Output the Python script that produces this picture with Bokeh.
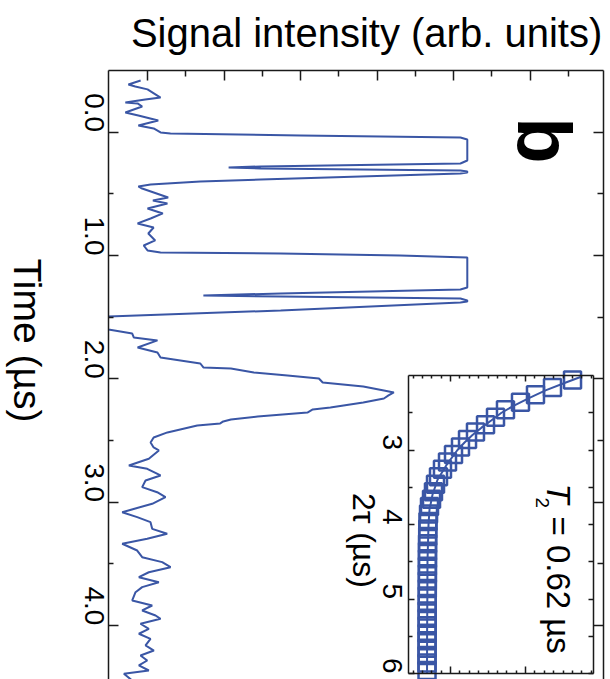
import math
from bokeh.plotting import figure
from bokeh.models import Range1d, LinearAxis, FixedTicker, PrintfTickFormatter, Label, CustomJSTickFormatter
from bokeh.embed import file_html
from bokeh.resources import INLINE

# ---------------- data ----------------
time_us = [-0.419, -0.387, -0.371, -0.347, -0.281, -0.265, -0.241, -0.233, -0.208, -0.160,
           -0.135, -0.095, -0.054, -0.030, 0.002, 0.011, 0.027, 0.043, 0.059, 0.148,
           0.230, 0.254, 0.278, 0.286, 0.294, 0.310, 0.318, 0.327, 0.335, 0.384,
           0.400, 0.424, 0.440, 0.457, 0.530, 0.554, 0.578, 0.619, 0.659, 0.700,
           0.740, 0.773, 0.822, 0.878, 0.919, 0.959, 0.976, 0.984, 1.000, 1.016,
           1.122, 1.260, 1.276, 1.308, 1.325, 1.333, 1.349, 1.365, 1.373, 1.381,
           1.446, 1.495, 1.527, 1.560, 1.600, 1.633, 1.665, 1.689, 1.746, 1.787,
           1.827, 1.876, 1.908, 1.916, 1.949, 1.973, 1.998, 2.030, 2.063, 2.095,
           2.111, 2.135, 2.160, 2.192, 2.233, 2.249, 2.274, 2.306, 2.330, 2.346,
           2.362, 2.379, 2.435, 2.476, 2.517, 2.557,
           2.581, 2.649, 2.703, 2.730, 2.784, 2.825, 2.879, 2.920, 2.960, 3.014,
           3.082, 3.122, 3.163, 3.217, 3.257, 3.298, 3.338, 3.393, 3.447, 3.487,
           3.528, 3.569, 3.609, 3.650, 3.690, 3.731, 3.798, 3.839, 3.879, 3.920,
           3.947, 3.987, 4.028, 4.068, 4.109, 4.163, 4.204, 4.244, 4.285, 4.325,
           4.366, 4.393, 4.447]
signal = [-0.09, -0.25, -0.16, 0.00, 0.17, -0.03, -0.29, -0.13, -0.07, -0.29,
          -0.12, 0.14, -0.12, 0.08, 0.17, 0.30, 2.00, 4.09, 4.18, 4.18,
          4.18, 4.09, 1.48, 1.06, 1.48, 4.09, 4.18, 4.18, 4.09, 1.48,
          0.69, 0.04, -0.12, -0.07, 0.27, 0.07, 0.26, 0.00, 0.20, 0.04,
          -0.13, 0.08, 0.01, 0.10, -0.05, 0.00, 0.17, 1.74, 3.30, 4.18,
          4.18, 4.18, 4.09, 1.74, 0.73, 1.74, 4.09, 4.18, 4.18, 4.09,
          1.74, -0.51, -0.80, -0.80, -0.51, -0.20, -0.18, 0.13, -0.13, 0.13,
          0.17, 0.69, 0.73, 1.09, 1.39, 1.83, 2.24, 2.29, 2.82, 3.09,
          3.22, 3.15, 3.09, 2.82, 2.39, 2.16, 2.09, 1.44, 1.09, 0.99,
          0.95, 0.65, 0.26, 0.08, 0.04, 0.08,
          0.148, 0.017, -0.244, -0.004, 0.170, -0.026, -0.070, 0.126, 0.235, 0.061,
          -0.331, -0.135, 0.039, 0.061, 0.257, -0.004, -0.331, -0.135, -0.070, 0.192,
          0.301, 0.017, -0.113, 0.148, -0.070, -0.157, -0.200, 0.061, -0.070, 0.105,
          0.170, -0.092, 0.017, -0.113, 0.039, -0.026, 0.083, -0.092, -0.004, -0.113,
          0.017, -0.309, -0.20]

tau2_us = [2.06, 2.16, 2.26, 2.36, 2.46, 2.56, 2.66, 2.76, 2.86, 2.96,
           3.06, 3.16, 3.26, 3.36, 3.46, 3.56, 3.66, 3.76, 3.86, 3.96,
           4.06, 4.16, 4.26, 4.36, 4.46, 4.56, 4.66, 4.76, 4.86, 4.96,
           5.06, 5.16, 5.26, 5.36, 5.46, 5.56, 5.66, 5.76, 5.86, 5.96]
echo = [2.627, 2.360, 2.133, 1.933, 1.733, 1.600, 1.467, 1.333, 1.227, 1.133,
        1.040, 0.960, 0.893, 0.840, 0.800, 0.773, 0.747, 0.720, 0.707, 0.700,
        0.697, 0.696, 0.694, 0.693, 0.693, 0.692, 0.692, 0.691, 0.691, 0.690,
        0.690, 0.689, 0.689, 0.689, 0.688, 0.688, 0.688, 0.687, 0.687, 0.687]
fit_tau2 = [2.02, 2.1, 2.2, 2.3, 2.4, 2.5, 2.6, 2.7, 2.8, 2.9,
            3.0, 3.2, 3.4, 3.6, 3.8, 4.0, 4.5, 5.0, 5.5, 6.0]
fit_echo = [2.733, 2.520, 2.267, 2.053, 1.853, 1.680, 1.547, 1.413, 1.293, 1.187,
            1.093, 0.947, 0.827, 0.760, 0.720, 0.707, 0.693, 0.691, 0.688, 0.687]

time_ticks = [0, 1, 2, 3, 4]
time_minor = [0.5, 1.5, 2.5, 3.5]
sig_ticks = [0, 1, 2, 3, 4, 5]
sig_minor = [0.5, 1.5, 2.5, 3.5, 4.5, 5.5]
inset_y_ticks = [3, 4, 5, 6]
inset_y_minor = [2.5, 3.5, 4.5, 5.5]
inset_x_ticks = [1, 2]
inset_x_minor = [0.5, 0.625, 0.75, 0.875, 1.125, 1.25, 1.375, 1.5, 1.625, 1.75, 1.875,
                 2.125, 2.25, 2.375, 2.5, 2.625, 2.75, 2.875]

# extents of the main panel and of the inset (data units)
main_x_span = [-0.51, 5.96]
main_y_span = [-0.5, 4.439]
inset_x_span = [0.44, 2.907]
inset_y_span = [2.0, 6.0]

# ---------------- styling ----------------
BLUE = "#3a56a5"
FONT = "Liberation Sans"
AX = "#1a1a1a"
ROT = -math.pi / 2
blank = CustomJSTickFormatter(code="return ''")

p = figure(width=610, height=679, output_backend="svg", toolbar_location=None,
           x_range=Range1d(-1.922, 6.052), y_range=Range1d(4.439, -1.068),
           x_axis_location=None, y_axis_location=None,
           min_border_left=0, min_border_right=0, min_border_top=0, min_border_bottom=0)
p.outline_line_color = None
p.xgrid.grid_line_color = None
p.ygrid.grid_line_color = None
p.background_fill_color = "white"
p.border_fill_color = "white"

p.extra_x_ranges = {"ix": Range1d(-5.0, 3.1333)}
p.extra_y_ranges = {"iy": Range1d(6.0805, -3.0336)}


def style(ax, maj_in, min_in, lw=1.5):
    ax.axis_line_color = AX
    ax.axis_line_width = lw
    ax.major_tick_line_color = AX
    ax.major_tick_line_width = lw
    ax.minor_tick_line_color = AX
    ax.minor_tick_line_width = lw
    ax.major_tick_in = maj_in
    ax.major_tick_out = 0
    ax.minor_tick_in = min_in
    ax.minor_tick_out = 0
    ax.major_label_text_font = FONT
    ax.major_label_text_color = "black"


# main trace
p.line(signal, time_us, line_color=BLUE, line_width=2)
# white mask: the trace is clipped at the left edge of the main panel
p.quad(left=[p.x_range.start], right=[main_x_span[0]], top=[p.y_range.end], bottom=[p.y_range.start],
       fill_color="white", line_color=None)

# main axes (drawn at the edges of the main panel)
left = LinearAxis(ticker=FixedTicker(ticks=time_ticks, minor_ticks=time_minor),
                  formatter=PrintfTickFormatter(format="%.1f"), fixed_location=main_x_span[0],
                  bounds=(main_y_span[0], main_y_span[1]),
                  major_label_orientation=ROT, major_label_standoff=14)
style(left, 10, 5)
left.major_label_text_font_size = "28px"
p.add_layout(left, "left")

top = LinearAxis(ticker=FixedTicker(ticks=sig_ticks, minor_ticks=sig_minor),
                 formatter=blank, major_label_standoff=0, fixed_location=main_y_span[0],
                 bounds=(main_x_span[0], main_x_span[1]))
style(top, 10, 6)
p.add_layout(top, "above")

right = LinearAxis(ticker=FixedTicker(ticks=time_ticks, minor_ticks=time_minor),
                   formatter=blank, major_label_standoff=0, fixed_location=main_x_span[1],
                   bounds=(main_y_span[0], main_y_span[1]))
style(right, 10, 6)
p.add_layout(right, "right")

# inset background
p.quad(left=[inset_x_span[0]], right=[inset_x_span[1]], bottom=[inset_y_span[1]], top=[inset_y_span[0]],
       x_range_name="ix", y_range_name="iy", fill_color="white", line_color=None)

# inset data
p.line(fit_echo, fit_tau2, x_range_name="ix", y_range_name="iy", line_color=BLUE, line_width=2)
p.scatter(echo, tau2_us, x_range_name="ix", y_range_name="iy", marker="square", size=17,
          fill_color=None, line_color=BLUE, line_width=2.5)

# inset axes
i_left = LinearAxis(x_range_name="ix", y_range_name="iy", fixed_location=inset_x_span[0],
                    bounds=(inset_y_span[0], inset_y_span[1]),
                    ticker=FixedTicker(ticks=inset_y_ticks, minor_ticks=inset_y_minor),
                    major_label_orientation=ROT, major_label_standoff=16)
style(i_left, 6, 4)
i_left.major_label_text_font_size = "28px"
p.add_layout(i_left, "left")

i_right = LinearAxis(x_range_name="ix", y_range_name="iy", fixed_location=inset_x_span[1],
                     bounds=(inset_y_span[0], inset_y_span[1]),
                     ticker=FixedTicker(ticks=inset_y_ticks, minor_ticks=inset_y_minor),
                     formatter=blank, major_label_standoff=0)
style(i_right, 5, 5)
p.add_layout(i_right, "right")

i_top = LinearAxis(x_range_name="ix", y_range_name="iy", fixed_location=inset_y_span[0],
                   bounds=(inset_x_span[0], inset_x_span[1]),
                   ticker=FixedTicker(ticks=inset_x_ticks, minor_ticks=inset_x_minor),
                   formatter=blank, major_label_standoff=0)
style(i_top, 6, 3)
p.add_layout(i_top, "above")

i_bot = LinearAxis(x_range_name="ix", y_range_name="iy", fixed_location=inset_y_span[1],
                   bounds=(inset_x_span[0], inset_x_span[1]),
                   ticker=FixedTicker(ticks=inset_x_ticks, minor_ticks=inset_x_minor),
                   formatter=blank, major_label_standoff=0)
style(i_bot, 7, 3)
p.add_layout(i_bot, "below")


# texts
def lab(x, y, text, size, angle=ROT, align="center", baseline="middle", style_="normal"):
    p.add_layout(Label(x=x, y=y, text=text, angle=angle, text_align=align, text_baseline=baseline,
                       text_font=FONT, text_font_size=size, text_font_style=style_, text_color="black"))


lab(2.863, -0.808, "Signal intensity (arb. units)", "40px", angle=0, baseline="alphabetic")
lab(-1.569, 1.689, "Time (µs)", "39px")
lab(5.19, 0.067, "b", "76px", style_="bold")
lab(2.83, 3.311, "2τ (µs)", "32px")
lab(5.37, 2.849, "T", "33px", align="left", style_="italic")
lab(5.159, 2.962, "2", "19px", align="left")
lab(5.37, 3.117, "= 0.62 µs", "33px", align="left")

open("out.html", "w").write(file_html(p, INLINE))
